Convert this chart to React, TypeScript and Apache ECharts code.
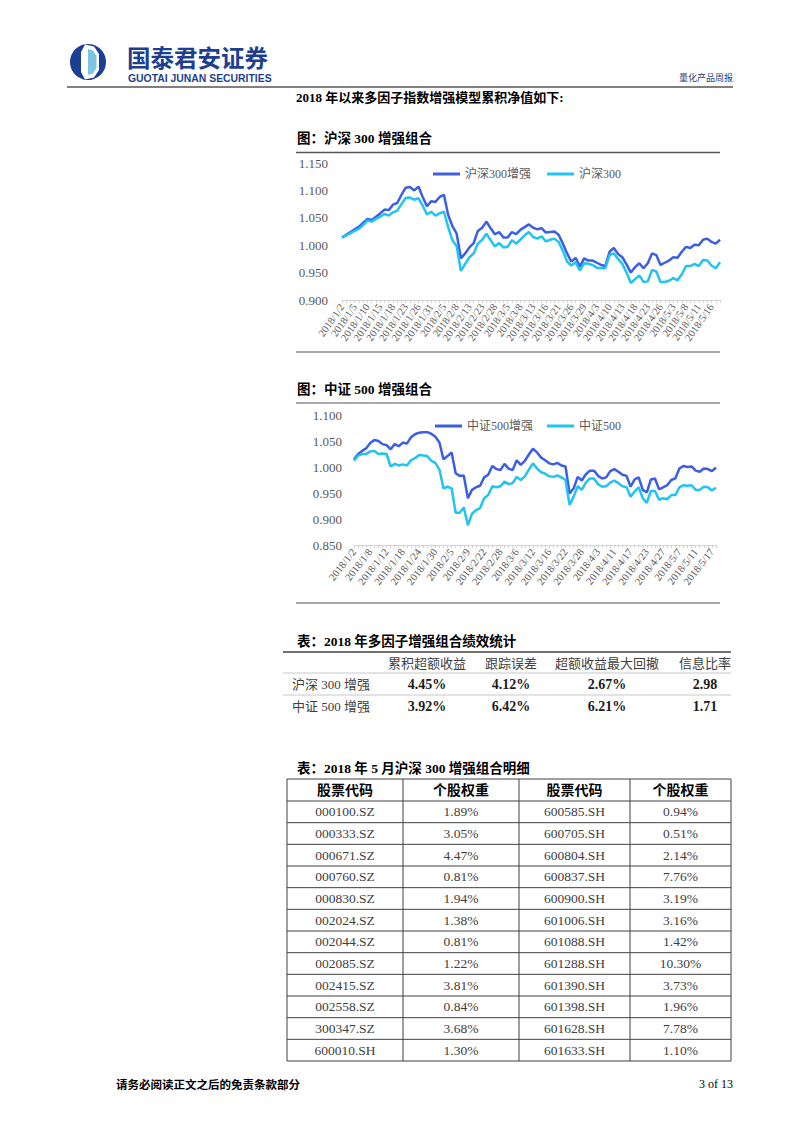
import React, { useEffect, useRef } from 'react';
import * as echarts from 'echarts';

const dates: string[] = [
  '2018/1/2','2018/1/3','2018/1/4','2018/1/5','2018/1/8','2018/1/9','2018/1/10','2018/1/11','2018/1/12','2018/1/15',
  '2018/1/16','2018/1/17','2018/1/18','2018/1/19','2018/1/22','2018/1/23','2018/1/24','2018/1/25','2018/1/26','2018/1/29',
  '2018/1/30','2018/1/31','2018/2/1','2018/2/2','2018/2/5','2018/2/6','2018/2/7','2018/2/8','2018/2/9','2018/2/12',
  '2018/2/13','2018/2/14','2018/2/22','2018/2/23','2018/2/26','2018/2/27','2018/2/28','2018/3/1','2018/3/2','2018/3/5',
  '2018/3/6','2018/3/7','2018/3/8','2018/3/9','2018/3/12','2018/3/13','2018/3/14','2018/3/15','2018/3/16','2018/3/19',
  '2018/3/20','2018/3/21','2018/3/22','2018/3/23','2018/3/26','2018/3/27','2018/3/28','2018/3/29','2018/3/30','2018/4/2',
  '2018/4/3','2018/4/4','2018/4/9','2018/4/10','2018/4/11','2018/4/12','2018/4/13','2018/4/16','2018/4/17','2018/4/18',
  '2018/4/19','2018/4/20','2018/4/23','2018/4/24','2018/4/25','2018/4/26','2018/4/27','2018/5/2','2018/5/3','2018/5/4',
  '2018/5/7','2018/5/8','2018/5/9','2018/5/10','2018/5/11','2018/5/14','2018/5/15','2018/5/16','2018/5/17','2018/5/18'
];

const hs300Enh: number[] = [
  1.014,1.019,1.024,1.029,1.034,1.041,1.048,1.046,1.052,1.058,
  1.065,1.064,1.074,1.077,1.092,1.105,1.106,1.100,1.107,1.088,
  1.071,1.080,1.079,1.088,1.092,1.055,1.035,1.021,0.976,0.985,
  0.996,1.004,1.026,1.032,1.043,1.031,1.020,1.024,1.014,1.014,
  1.024,1.020,1.028,1.033,1.038,1.032,1.029,1.031,1.023,1.024,
  1.025,1.019,1.003,0.985,0.970,0.977,0.961,0.976,0.972,0.972,
  0.968,0.964,0.962,0.988,0.995,0.984,0.978,0.965,0.950,0.960,
  0.967,0.958,0.967,0.985,0.982,0.964,0.968,0.972,0.978,0.977,
  0.988,0.997,0.995,1.001,1.000,1.010,1.012,1.006,1.003,1.010
];

const hs300: number[] = [
  1.014,1.018,1.022,1.026,1.030,1.037,1.045,1.043,1.048,1.052,
  1.057,1.054,1.060,1.063,1.075,1.086,1.087,1.083,1.086,1.072,
  1.056,1.061,1.054,1.058,1.061,1.033,1.009,0.998,0.953,0.966,
  0.978,0.985,1.003,1.010,1.021,1.009,0.998,1.004,0.996,0.997,
  1.009,1.003,1.010,1.018,1.024,1.015,1.012,1.016,1.007,1.010,
  1.012,1.006,0.990,0.970,0.963,0.969,0.954,0.967,0.966,0.964,
  0.959,0.958,0.958,0.982,0.985,0.975,0.966,0.950,0.931,0.938,
  0.945,0.933,0.934,0.955,0.952,0.933,0.933,0.935,0.940,0.936,
  0.947,0.962,0.962,0.966,0.962,0.973,0.972,0.963,0.958,0.969
];

const zz500Enh: number[] = [
  1.015,1.025,1.031,1.036,1.046,1.052,1.050,1.044,1.042,1.034,
  1.044,1.040,1.047,1.045,1.057,1.063,1.066,1.067,1.067,1.064,
  1.058,1.047,1.015,1.021,1.028,0.988,0.983,0.983,0.940,0.956,
  0.961,0.964,0.980,0.985,1.002,0.996,0.994,1.006,0.997,0.994,
  1.013,1.004,1.012,1.024,1.035,1.028,1.018,1.013,1.007,1.005,
  1.008,1.003,1.001,0.949,0.959,0.981,0.974,0.986,0.993,0.993,
  0.983,0.978,0.980,0.992,0.996,0.991,0.985,0.983,0.962,0.976,
  0.980,0.956,0.951,0.976,0.978,0.957,0.961,0.965,0.975,0.978,
  0.997,1.002,1.000,1.001,0.993,0.991,0.997,0.996,0.992,0.999
];

const zz500: number[] = [
  1.012,1.022,1.025,1.025,1.030,1.031,1.025,1.026,1.025,1.001,
  1.006,1.003,1.005,1.003,1.013,1.017,1.023,1.022,1.021,1.012,
  1.008,0.995,0.959,0.962,0.959,0.912,0.912,0.922,0.888,0.910,
  0.917,0.921,0.940,0.946,0.963,0.961,0.963,0.972,0.967,0.969,
  0.981,0.975,0.982,0.995,1.007,0.997,0.990,0.987,0.982,0.981,
  0.984,0.980,0.975,0.927,0.943,0.963,0.956,0.970,0.978,0.978,
  0.967,0.962,0.963,0.970,0.974,0.969,0.963,0.961,0.943,0.953,
  0.961,0.940,0.931,0.954,0.954,0.937,0.940,0.938,0.946,0.946,
  0.961,0.965,0.964,0.965,0.956,0.956,0.962,0.961,0.955,0.960
];

const perfHeaders: string[] = ['累积超额收益', '跟踪误差', '超额收益最大回撤', '信息比率'];
const perfNames: string[] = ['沪深 300 增强', '中证 500 增强'];
const perfExcess: string[] = ['4.45%', '3.92%'];
const perfTE: string[] = ['4.12%', '6.42%'];
const perfDD: string[] = ['2.67%', '6.21%'];
const perfIR: string[] = ['2.98', '1.71'];

const holdHeaders: string[] = ['股票代码', '个股权重', '股票代码', '个股权重'];
const codesA: string[] = ['000100.SZ','000333.SZ','000671.SZ','000760.SZ','000830.SZ','002024.SZ','002044.SZ','002085.SZ','002415.SZ','002558.SZ','300347.SZ','600010.SH'];
const weightsA: string[] = ['1.89%','3.05%','4.47%','0.81%','1.94%','1.38%','0.81%','1.22%','3.81%','0.84%','3.68%','1.30%'];
const codesB: string[] = ['600585.SH','600705.SH','600804.SH','600837.SH','600900.SH','601006.SH','601088.SH','601288.SH','601390.SH','601398.SH','601628.SH','601633.SH'];
const weightsB: string[] = ['0.94%','0.51%','2.14%','7.76%','3.19%','3.16%','1.42%','10.30%','3.73%','1.96%','7.78%','1.10%'];

const SERIF = "'Liberation Serif', 'Noto Sans CJK SC', serif";
const DARK = '#3c5ee4';
const LIGHT = '#21c4f0';

function txt(x: number, y: number, text: string, font: string, fill = '#000', align = 'left') {
  return {
    type: 'text', x, y, silent: true,
    style: { text, font, fill, textAlign: align, textVerticalAlign: 'middle' },
  };
}
function ln(x1: number, y1: number, x2: number, y2: number, stroke: string, lineWidth = 1) {
  return { type: 'line', silent: true, shape: { x1, y1, x2, y2 }, style: { stroke, lineWidth } };
}

function buildGraphics() {
  const g: any[] = [];
  // logo emblem
  g.push({ type: 'circle', shape: { cx: 88, cy: 62, r: 18 }, style: { fill: '#1b3f93' } });
  g.push({ type: 'polygon', shape: { points: [[85, 44.5], [94, 46.5], [99, 54], [99, 70], [94, 77.5], [85, 79.5], [81, 72], [81, 52]] }, style: { fill: '#ffffff' } });
  g.push({ type: 'polygon', shape: { points: [[88, 49], [93, 50.5], [96.5, 56], [96.5, 68], [93, 73.5], [88, 75]] }, style: { fill: '#7cc6e4' } });
  g.push({ type: 'polygon', shape: { points: [[99, 54], [104, 56], [104, 68], [99, 70]] }, style: { fill: '#1b3f93' } });
  g.push(txt(127, 57, '国泰君安证券', "bold 23.5px 'Noto Sans CJK SC'", '#1e3f8f'));
  g.push(txt(128, 78.5, 'GUOTAI JUNAN SECURITIES', "bold 10.4px 'Liberation Sans', sans-serif", '#1e3f8f'));
  g.push(txt(733, 77, '量化产品周报', "9px 'Noto Sans CJK SC'", '#1f3f7a', 'right'));
  g.push(ln(67, 87, 733, 87, '#000', 1));
  g.push(txt(296, 97, '2018 年以来多因子指数增强模型累积净值如下:', 'bold 13px ' + SERIF, '#000'));

  // chart 1 frame
  g.push(txt(297, 138, '图：沪深 300 增强组合', 'bold 13.5px ' + SERIF, '#000'));
  g.push(ln(296, 152.5, 720, 152.5, '#595959', 1.5));
  g.push(ln(296, 352, 720, 352, '#8c8c8c', 1.5));
  // chart 2 frame
  g.push(txt(297, 389, '图：中证 500 增强组合', 'bold 13.5px ' + SERIF, '#000'));
  g.push(ln(296, 403, 720, 403, '#8c8c8c', 1.5));
  g.push(ln(296, 603, 720, 603, '#8c8c8c', 1.5));

  // table 1
  g.push(txt(297, 641, '表：2018 年多因子增强组合绩效统计', 'bold 13.5px ' + SERIF, '#000'));
  g.push(ln(283, 652, 731, 652, '#404040', 1.5));
  const c1 = [427, 511, 607, 705];
  perfHeaders.forEach((h, i) => g.push(txt(c1[i], 662, h, "13px 'Noto Sans CJK SC'", '#404040', 'center')));
  g.push(ln(283, 673, 731, 673, '#c8c8c8', 1));
  g.push(ln(283, 695, 731, 695, '#c8c8c8', 1));
  const rowsY = [684, 706];
  perfNames.forEach((n, r) => {
    g.push(txt(292, rowsY[r], n, '13px ' + SERIF, '#404040'));
    [perfExcess[r], perfTE[r], perfDD[r], perfIR[r]].forEach((v, i) =>
      g.push(txt(c1[i], rowsY[r], v, 'bold 14px ' + SERIF, '#1a1a1a', 'center')));
  });

  // table 2
  g.push(txt(297, 768, '表：2018 年 5 月沪深 300 增强组合明细', 'bold 13.5px ' + SERIF, '#000'));
  const xs = [287, 403, 519, 630, 731];
  const top = 779, headB = 801, rh = (1061 - 801) / 12;
  const bottom = headB + rh * codesA.length;
  xs.forEach((x) => g.push(ln(x, top, x, bottom, '#404040', 1)));
  g.push(ln(xs[0], top, xs[4], top, '#404040', 1));
  for (let i = 0; i <= codesA.length; i++) {
    const y = headB + rh * i;
    g.push(ln(xs[0], y, xs[4], y, '#404040', 1));
  }
  const cc = [345, 461, 574.5, 680.5];
  holdHeaders.forEach((h, i) => g.push(txt(cc[i], (top + headB) / 2, h, 'bold 14px ' + SERIF, '#000', 'center')));
  codesA.forEach((_, r) => {
    const y = headB + rh * r + rh / 2;
    [codesA[r], weightsA[r], codesB[r], weightsB[r]].forEach((v, i) =>
      g.push(txt(cc[i], y, v, '13.5px ' + SERIF, '#404040', 'center')));
  });

  // footer
  g.push(txt(116, 1084, '请务必阅读正文之后的免责条款部分', "bold 11.5px 'Noto Sans CJK SC'", '#000'));
  g.push(txt(733, 1084, '3 of 13', '12px ' + SERIF, '#000', 'right'));
  return g;
}

function xAxisCfg(gridIndex: number, interval: number, rotate: number) {
  return {
    type: 'category', gridIndex, data: dates, boundaryGap: false,
    axisLine: { show: true, lineStyle: { color: '#d4d4d4', width: 1 } },
    axisTick: { show: true, interval: 0, length: 3, lineStyle: { color: '#d4d4d4' } },
    axisLabel: { interval, rotate, fontSize: 10.5, color: '#595959', fontFamily: SERIF, margin: 5, hideOverlap: false },
    splitLine: { show: false },
  };
}
function yAxisCfg(gridIndex: number, min: number, max: number, margin: number) {
  return {
    type: 'value', gridIndex, min, max, interval: 0.05,
    axisLine: { show: false }, axisTick: { show: false }, splitLine: { show: false },
    axisLabel: { fontSize: 13, color: '#595959', fontFamily: SERIF, margin, formatter: (v: number) => v.toFixed(3) },
  };
}

export default function App() {
  const ref = useRef<HTMLDivElement>(null);
  useEffect(() => {
    if (!ref.current) return;
    const chart = echarts.init(ref.current, undefined, { renderer: 'svg' });
    const legendText = { fontSize: 12, color: '#595959', fontFamily: SERIF };
    chart.setOption({
      animation: false,
      backgroundColor: '#ffffff',
      grid: [
        { left: 342, top: 163, width: 378, height: 137 },
        { left: 354, top: 415, width: 362, height: 130 },
      ],
      xAxis: [xAxisCfg(0, 2, 55), xAxisCfg(1, 3, 52)],
      yAxis: [yAxisCfg(0, 0.9, 1.15, 14), yAxisCfg(1, 0.85, 1.1, 12)],
      legend: [
        { data: ['沪深300增强', '沪深300'], left: 428, top: 163, icon: 'rect', itemWidth: 27, itemHeight: 3, itemGap: 16, textStyle: legendText },
        { data: ['中证500增强', '中证500'], left: 430, top: 415, icon: 'rect', itemWidth: 27, itemHeight: 3, itemGap: 14, textStyle: legendText },
      ],
      series: [
        { name: '沪深300增强', type: 'line', xAxisIndex: 0, yAxisIndex: 0, data: hs300Enh, symbol: 'none', lineStyle: { width: 2.5, color: DARK }, itemStyle: { color: DARK } },
        { name: '沪深300', type: 'line', xAxisIndex: 0, yAxisIndex: 0, data: hs300, symbol: 'none', lineStyle: { width: 2.5, color: LIGHT }, itemStyle: { color: LIGHT } },
        { name: '中证500增强', type: 'line', xAxisIndex: 1, yAxisIndex: 1, data: zz500Enh, symbol: 'none', lineStyle: { width: 2.5, color: DARK }, itemStyle: { color: DARK } },
        { name: '中证500', type: 'line', xAxisIndex: 1, yAxisIndex: 1, data: zz500, symbol: 'none', lineStyle: { width: 2.5, color: LIGHT }, itemStyle: { color: LIGHT } },
      ],
      graphic: buildGraphics(),
    });
    return () => chart.dispose();
  }, []);
  return <div ref={ref} style={{ position: 'absolute', left: 0, top: 0, width: 802, height: 1133, background: '#fff' }} />;
}
